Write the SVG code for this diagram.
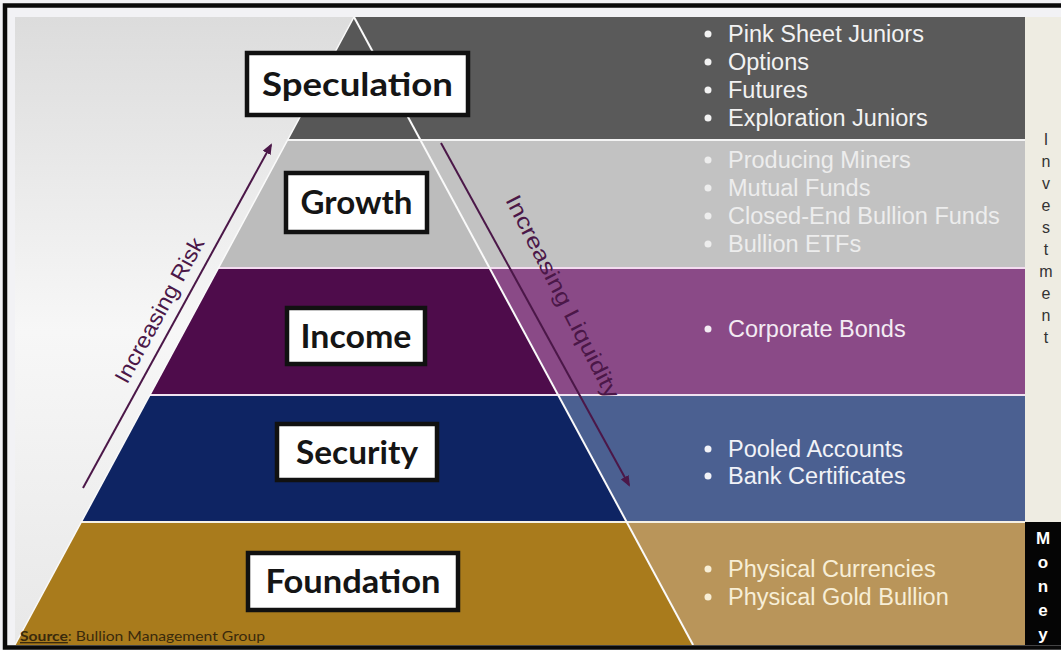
<svg xmlns="http://www.w3.org/2000/svg" width="1061" height="650" viewBox="0 0 1061 650">
<defs>
<linearGradient id="bg" x1="0" y1="0" x2="0" y2="1">
<stop offset="0" stop-color="#dcdcdc"/>
<stop offset="0.5" stop-color="#f7f7f7"/>
<stop offset="1" stop-color="#e8e8e8"/>
</linearGradient>
<marker id="ah" markerWidth="11" markerHeight="9" refX="9" refY="4.5" orient="auto" markerUnits="userSpaceOnUse">
<path d="M0,0 L11,4.5 L0,9 z" fill="#4b1748"/>
</marker>
<style>
.lbl rect{fill:#ffffff;stroke:#111111;stroke-width:4.5}
.lbl text{font-family:Lato,"Open Sans","Liberation Sans",sans-serif;font-weight:bold;font-size:32px;fill:#151515;text-anchor:middle}
.item{font-family:"Liberation Sans",Arial,sans-serif;font-size:23.5px}
.sep{stroke-width:2;fill:none}
.arrow{stroke:#4b1748;stroke-width:2;fill:none;marker-end:url(#ah)}
.atext{font-family:"Liberation Sans",Arial,sans-serif;font-size:22px;fill:#4b1748;text-anchor:middle}
.vinv{font-family:"Liberation Sans",Arial,sans-serif;font-size:16px;fill:#333333;text-anchor:middle}
.vmon{font-family:"Liberation Sans",Arial,sans-serif;font-size:17px;font-weight:bold;fill:#ffffff;text-anchor:middle}
</style>
</defs>

<!-- frame and background -->
<rect x="0" y="0" width="1061" height="650" fill="#f2f2f5"/>
<rect x="15" y="17" width="1010" height="628" fill="url(#bg)"/>
<rect x="1025" y="17" width="36" height="505" fill="#eeece2"/>
<rect x="1025" y="522" width="36" height="123" fill="#050505"/>

<!-- pyramid bands and panels -->
<g id="band-speculation">
<polygon points="354,17 1025,17 1025,140 420.4,140" fill="#5a5a5a"/>
<polygon points="354,17 420.4,140 287.6,140" fill="#575757"/>
</g>
<g id="band-growth">
<polygon points="420.4,140 1025,140 1025,268 489.5,268" fill="#c2c2c2"/>
<polygon points="287.6,140 420.4,140 489.5,268 218.5,268" fill="#bcbcbc"/>
</g>
<g id="band-income">
<polygon points="489.5,268 1025,268 1025,395 558.1,395" fill="#8a4a87"/>
<polygon points="218.5,268 489.5,268 558.1,395 149.9,395" fill="#4e0c4b"/>
</g>
<g id="band-security">
<polygon points="558.1,395 1025,395 1025,522 626.7,522" fill="#4b6091"/>
<polygon points="149.9,395 558.1,395 626.7,522 81.3,522" fill="#0e2463"/>
</g>
<g id="band-foundation">
<polygon points="626.7,522 1025,522 1025,645 693.1,645" fill="#b9955a"/>
<polygon points="81.3,522 626.7,522 693.1,645 14.9,645" fill="#a97b1c"/>
</g>

<!-- separators and pyramid edges -->
<g id="separators">
<line class="sep" x1="287.6" y1="140" x2="1025" y2="140" stroke="#f4f4f4"/>
<line class="sep" x1="218.5" y1="268" x2="1025" y2="268" stroke="#f3dcf0"/>
<line class="sep" x1="149.9" y1="395" x2="1025" y2="395" stroke="#efe2f0"/>
<line class="sep" x1="81.3" y1="522" x2="1025" y2="522" stroke="#f5f0e4"/>
<line x1="354" y1="17" x2="14.9" y2="645" stroke="#fafafa" stroke-width="1.5"/>
<line x1="354" y1="17" x2="693.1" y2="645" stroke="#fafafa" stroke-width="2"/>
</g>

<!-- frame -->
<rect x="5" y="5.5" width="1070" height="642" fill="none" stroke="#0a0a0a" stroke-width="4.5"/>

<!-- labels -->
<g id="node-speculation" class="lbl">
<rect x="247" y="53" width="221" height="62"/>
<text x="357.5" y="95.5" textLength="191" lengthAdjust="spacingAndGlyphs">Speculation</text>
</g>
<g id="node-growth" class="lbl">
<rect x="286" y="173" width="141" height="59"/>
<text x="356.5" y="214" textLength="112" lengthAdjust="spacingAndGlyphs">Growth</text>
</g>
<g id="node-income" class="lbl">
<rect x="287" y="308" width="138" height="56"/>
<text x="356" y="347.5" textLength="111" lengthAdjust="spacingAndGlyphs">Income</text>
</g>
<g id="node-security" class="lbl">
<rect x="277" y="424" width="160" height="56"/>
<text x="357" y="463.5" textLength="122" lengthAdjust="spacingAndGlyphs">Security</text>
</g>
<g id="node-foundation" class="lbl">
<rect x="248" y="553" width="210" height="57"/>
<text x="353" y="593" textLength="175" lengthAdjust="spacingAndGlyphs">Foundation</text>
</g>

<!-- bullet lists -->
<g id="list-speculation" fill="#f2f2f2">
<circle cx="708" cy="34" r="3.5"/><circle cx="708" cy="62" r="3.5"/><circle cx="708" cy="90" r="3.5"/><circle cx="708" cy="118" r="3.5"/>
<text class="item" x="728" y="42">Pink Sheet Juniors</text>
<text class="item" x="728" y="70">Options</text>
<text class="item" x="728" y="98">Futures</text>
<text class="item" x="728" y="126">Exploration Juniors</text>
</g>
<g id="list-growth" fill="#ededed">
<circle cx="708" cy="160" r="3.5"/><circle cx="708" cy="188" r="3.5"/><circle cx="708" cy="216" r="3.5"/><circle cx="708" cy="244" r="3.5"/>
<text class="item" x="728" y="168">Producing Miners</text>
<text class="item" x="728" y="196">Mutual Funds</text>
<text class="item" x="728" y="224">Closed-End Bullion Funds</text>
<text class="item" x="728" y="252">Bullion ETFs</text>
</g>
<g id="list-income" fill="#f3ebf3">
<circle cx="708" cy="329" r="3.5"/>
<text class="item" x="728" y="337">Corporate Bonds</text>
</g>
<g id="list-security" fill="#f1f2f7">
<circle cx="708" cy="449" r="3.5"/><circle cx="708" cy="476" r="3.5"/>
<text class="item" x="728" y="457">Pooled Accounts</text>
<text class="item" x="728" y="484">Bank Certificates</text>
</g>
<g id="list-foundation" fill="#f7eed6">
<circle cx="708" cy="569" r="3.5"/><circle cx="708" cy="597" r="3.5"/>
<text class="item" x="728" y="577">Physical Currencies</text>
<text class="item" x="728" y="605">Physical Gold Bullion</text>
</g>

<!-- arrows -->
<g id="connectors">
<line class="arrow" x1="83" y1="488" x2="271" y2="145"/>
<line class="arrow" x1="441" y1="143" x2="629" y2="485"/>
</g>
<text class="atext" transform="translate(166,314) rotate(-61.3)" textLength="162" lengthAdjust="spacingAndGlyphs">Increasing Risk</text>
<text class="atext" transform="translate(556,300) rotate(63)" textLength="225" lengthAdjust="spacingAndGlyphs">Increasing Liquidity</text>

<!-- side column -->
<g id="col-investment">
<text class="vinv" x="1046" y="145">I</text>
<text class="vinv" x="1046" y="167">n</text>
<text class="vinv" x="1046" y="189">v</text>
<text class="vinv" x="1046" y="211">e</text>
<text class="vinv" x="1046" y="233">s</text>
<text class="vinv" x="1046" y="255">t</text>
<text class="vinv" x="1046" y="277">m</text>
<text class="vinv" x="1046" y="299">e</text>
<text class="vinv" x="1046" y="321">n</text>
<text class="vinv" x="1046" y="343">t</text>
</g>
<g id="col-money">
<text class="vmon" x="1043" y="544">M</text>
<text class="vmon" x="1043" y="568">o</text>
<text class="vmon" x="1043" y="592">n</text>
<text class="vmon" x="1043" y="616">e</text>
<text class="vmon" x="1043" y="640">y</text>
</g>

<!-- source -->
<text x="20" y="641" font-family="Lato,'Liberation Sans',sans-serif" font-size="13.5" fill="#3a2a0c" textLength="245" lengthAdjust="spacingAndGlyphs"><tspan font-weight="bold" text-decoration="underline">Source</tspan>: Bullion Management Group</text>
</svg>
